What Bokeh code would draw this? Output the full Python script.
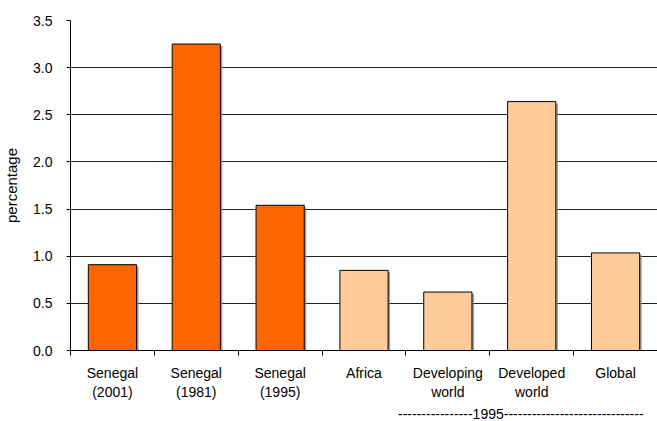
from bokeh.plotting import figure
from bokeh.models import ColumnDataSource, FixedTicker, Range1d, LinearAxis
from bokeh.embed import file_html
from bokeh.resources import INLINE

# ---- data ----
categories = ["Senegal (2001)", "Senegal (1981)", "Senegal (1995)", "Africa",
              "Developing world", "Developed world", "Global"]
tick_labels = ["Senegal\n(2001)", "Senegal\n(1981)", "Senegal\n(1995)", "Africa",
               "Developing\nworld", "Developed\nworld", "Global"]
values = [0.91, 3.25, 1.54, 0.85, 0.62, 2.64, 1.035]
colors = ["#FF6600", "#FF6600", "#FF6600", "#FFCC99", "#FFCC99", "#FFCC99", "#FFCC99"]
y_ticks = [0.0, 0.5, 1.0, 1.5, 2.0, 2.5, 3.0, 3.5]
group_label = "----------------1995------------------------------"
group_center = 5.37

FONT = "Liberation Sans"

n = len(categories)
xc = [i + 0.5 for i in range(n)]

p = figure(width=657, height=421, output_backend="svg", toolbar_location=None,
           x_range=Range1d(0, n), y_range=Range1d(0, 3.5),
           min_border_left=67, min_border_right=0, min_border_top=20, min_border_bottom=71,
           x_axis_location=None)
p.outline_line_color = None
p.background_fill_color = "white"
p.border_fill_color = "white"

src = ColumnDataSource(dict(x=xc, top=values, color=colors,
                            xs=[v + 0.025 for v in xc],
                            tops=[v - 0.02 for v in values]))

# shadow
p.vbar(x="xs", top="tops", width=0.575, bottom=0, source=src,
       fill_color="#8a8a8a", line_color=None, fill_alpha=0.8)
p.vbar(x="x", top="top", width=0.575, bottom=0, source=src,
       fill_color="color", line_color="black", line_width=1)

# y axis
p.yaxis.ticker = FixedTicker(ticks=y_ticks)
p.yaxis.major_label_overrides = {t: f"{t:.1f}" for t in y_ticks}
p.yaxis.axis_label = "percentage"
p.yaxis.axis_label_text_font = FONT
p.yaxis.axis_label_text_font_size = "15px"
p.yaxis.axis_label_text_font_style = "normal"
p.yaxis.axis_label_text_color = "black"
p.yaxis.axis_label_standoff = 10
p.yaxis.major_label_text_font = FONT
p.yaxis.major_label_text_font_size = "14px"
p.yaxis.major_label_text_color = "black"
p.yaxis.major_label_standoff = 14
p.yaxis.major_tick_out = 4
p.yaxis.major_tick_in = 0
p.yaxis.minor_tick_out = 0
p.yaxis.minor_tick_in = 0
p.yaxis.axis_line_color = "black"
p.yaxis.major_tick_line_color = "black"

# x axis: labels at category centres, tick marks (minor) at boundaries
xax = LinearAxis(ticker=FixedTicker(ticks=xc, minor_ticks=list(range(n + 1))))
xax.major_label_overrides = {x: t for x, t in zip(xc, tick_labels)}
xax.major_tick_out = 0
xax.major_tick_in = 0
xax.minor_tick_out = 5
xax.minor_tick_in = 0
xax.minor_tick_line_color = "black"
xax.axis_line_color = "black"
xax.major_label_text_font = FONT
xax.major_label_text_font_size = "14px"
xax.major_label_text_color = "black"
xax.major_label_standoff = 9
p.add_layout(xax, "below")

gax = LinearAxis(ticker=FixedTicker(ticks=[group_center]))
gax.major_label_overrides = {group_center: group_label}
gax.axis_line_color = None
gax.major_tick_line_color = None
gax.minor_tick_line_color = None
gax.major_tick_out = 0
gax.major_tick_in = 0
gax.major_label_standoff = 6
gax.major_label_text_font = FONT
gax.major_label_text_font_size = "14px"
gax.major_label_text_color = "black"
p.add_layout(gax, "below")

p.xgrid.grid_line_color = None
p.ygrid.ticker = FixedTicker(ticks=y_ticks)
p.ygrid.grid_line_color = "#222222"
p.ygrid.grid_line_width = 1

open("out.html", "w").write(file_html(p, INLINE))
